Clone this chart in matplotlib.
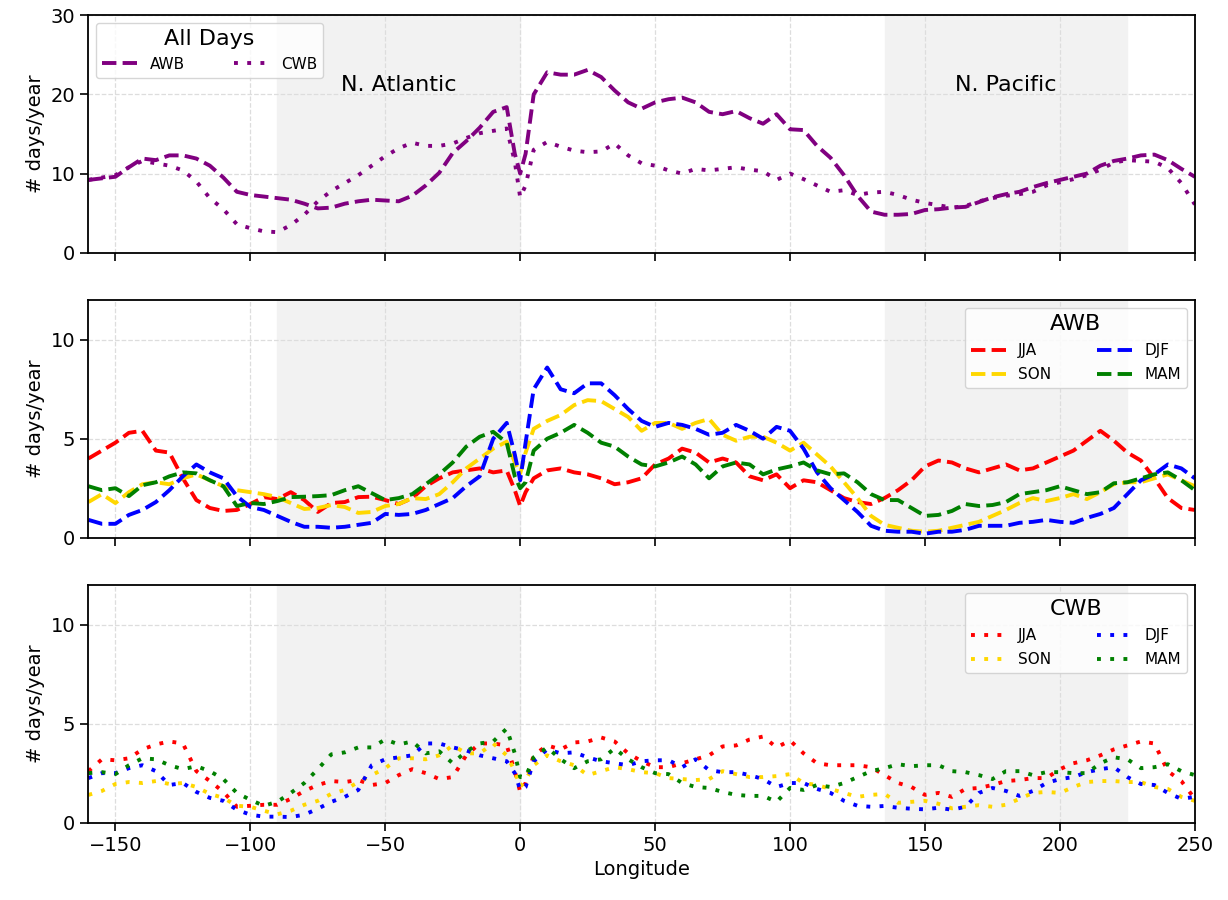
import numpy as np
import matplotlib
matplotlib.use('Agg')
import matplotlib.pyplot as plt

# longitude grid (deg), finer around the 0 deg dip
lon = list(range(-160, -4, 5)) + [-2, 0, 2] + list(range(5, 251, 5))

# all days
awb_all = [9.2, 9.4, 9.6, 10.8, 11.9, 11.7, 12.3, 12.3, 11.9, 11.0, 9.5, 7.7, 7.3, 7.1, 6.9, 6.7,
           6.2, 5.6, 5.7, 6.2, 6.5, 6.7, 6.6, 6.5, 7.2, 8.5, 10.1, 12.6, 14.1, 15.8, 17.8, 18.4,
           12.5, 10.0, 12.5,
           20.0, 22.8, 22.5, 22.5, 23.1, 22.2, 20.5, 19.0, 18.2, 19.0, 19.4, 19.6, 19.0, 17.8, 17.5,
           17.9, 17.0, 16.3, 17.5, 15.6, 15.5, 13.5, 12.0, 9.8, 7.2, 5.2, 4.8, 4.8, 4.9, 5.4, 5.5,
           5.7, 5.8, 6.4, 7.0, 7.4, 7.7, 8.3, 8.8, 9.2, 9.6, 10.0, 11.0, 11.6, 11.9, 12.3, 12.4,
           11.7, 10.6, 9.6]
cwb_all = [9.2, 9.5, 9.8, 10.8, 11.6, 11.3, 11.0, 10.4, 9.0, 6.9, 5.5, 3.6, 3.1, 2.7, 2.6, 3.5,
           4.8, 6.5, 7.8, 8.8, 9.8, 11.0, 12.2, 13.2, 13.9, 13.5, 13.5, 13.8, 14.5, 15.1, 15.4, 15.7,
           11.5, 7.0, 8.5,
           13.0, 14.0, 13.4, 12.9, 12.7, 12.8, 13.8, 12.3, 11.3, 11.0, 10.4, 10.0, 10.6, 10.4, 10.6,
           10.8, 10.5, 10.3, 9.2, 10.0, 9.3, 8.5, 7.7, 7.9, 7.3, 7.6, 7.7, 7.3, 6.7, 6.3, 6.0,
           5.7, 5.9, 6.5, 6.9, 7.2, 7.4, 7.7, 8.5, 8.9, 9.3, 9.8, 10.5, 11.4, 11.7, 11.6, 11.5,
           10.7, 8.8, 6.1]

# AWB by season
awb_jja = [4.0, 4.4, 4.8, 5.3, 5.4, 4.4, 4.3, 3.0, 1.9, 1.5, 1.35, 1.4, 1.7, 2.05, 1.95, 2.3,
           1.9, 1.3, 1.75, 1.8, 2.05, 2.07, 1.9, 1.7, 2.0, 2.6, 3.0, 3.3, 3.4, 3.5, 3.3, 3.4,
           2.4, 1.6, 2.3,
           3.0, 3.4, 3.5, 3.3, 3.2, 3.0, 2.7, 2.8, 3.0, 3.7, 4.0, 4.5, 4.3, 3.8, 4.0,
           3.8, 3.1, 2.9, 3.2, 2.5, 2.9, 2.8, 2.4, 2.0, 1.8, 1.7, 2.0, 2.4, 2.9, 3.6, 3.9,
           3.8, 3.5, 3.3, 3.5, 3.7, 3.4, 3.5, 3.8, 4.1, 4.4, 4.9, 5.4, 4.9, 4.3, 3.9, 3.0,
           2.0, 1.5, 1.4]
awb_djf = [0.9, 0.7, 0.7, 1.15, 1.4, 1.8, 2.4, 3.1, 3.7, 3.3, 3.0, 2.1, 1.55, 1.4, 1.1, 0.8,
           0.55, 0.55, 0.5, 0.55, 0.65, 0.75, 1.2, 1.15, 1.2, 1.4, 1.7, 2.0, 2.6, 3.1, 5.0, 5.8,
           4.2, 2.9, 4.8,
           7.5, 8.6, 7.5, 7.3, 7.8, 7.8, 7.2, 6.5, 5.9, 5.6, 5.8, 5.7, 5.5, 5.2, 5.3,
           5.7, 5.4, 5.0, 5.6, 5.4, 4.5, 3.3, 2.5, 1.9, 1.3, 0.6, 0.35, 0.3, 0.3, 0.2, 0.3,
           0.3, 0.4, 0.6, 0.6, 0.6, 0.75, 0.8, 0.9, 0.8, 0.75, 1.0, 1.2, 1.5, 2.2, 2.9, 3.2,
           3.7, 3.5, 3.0]
awb_son = [1.8, 2.2, 1.75, 2.3, 2.7, 2.8, 2.7, 3.0, 3.2, 2.9, 2.6, 2.4, 2.3, 2.2, 2.05, 1.75,
           1.45, 1.5, 1.65, 1.55, 1.25, 1.3, 1.6, 1.7, 2.0, 1.95, 2.2, 2.8, 3.5, 4.0, 4.5, 4.85,
           3.8, 3.25, 4.3,
           5.5, 5.9, 6.2, 6.7, 6.95, 6.9, 6.5, 6.1, 5.4, 5.8, 5.8, 5.5, 5.8, 6.0, 5.2,
           4.9, 5.1, 5.1, 4.8, 4.4, 4.8, 4.2, 3.6, 2.8, 2.0, 1.1, 0.65, 0.5, 0.35, 0.3, 0.35,
           0.5, 0.65, 0.8, 1.1, 1.4, 1.75, 2.0, 1.85, 2.0, 2.2, 1.95, 2.3, 2.7, 2.8, 2.8, 3.0,
           3.2, 2.9, 2.6]
awb_mam = [2.6, 2.4, 2.5, 2.1, 2.65, 2.8, 3.1, 3.3, 3.25, 2.9, 2.6, 1.6, 1.75, 1.7, 1.85, 2.05,
           2.07, 2.1, 2.15, 2.4, 2.6, 2.25, 1.9, 2.0, 2.2, 2.7, 3.2, 3.8, 4.6, 5.1, 5.35, 4.8,
           3.1, 2.5, 2.8,
           4.4, 5.0, 5.3, 5.7, 5.3, 4.8, 4.6, 4.1, 3.7, 3.6, 3.8, 4.1, 3.7, 3.0, 3.6,
           3.8, 3.7, 3.2, 3.45, 3.6, 3.8, 3.4, 3.2, 3.25, 2.8, 2.2, 1.9, 1.9, 1.5, 1.1, 1.15,
           1.35, 1.7, 1.6, 1.65, 1.8, 2.2, 2.3, 2.4, 2.6, 2.4, 2.2, 2.3, 2.75, 2.8, 3.0, 3.2,
           3.3, 2.9, 2.4]

# CWB by season
cwb_jja = [2.6, 3.2, 3.15, 3.25, 3.7, 3.95, 4.1, 4.0, 2.6, 2.1, 1.55, 0.8, 0.85, 0.9, 0.9, 1.2,
           1.6, 1.9, 2.1, 2.05, 2.15, 1.9, 2.0, 2.4, 2.7, 2.5, 2.2, 2.3, 3.4, 4.0, 4.0, 3.9,
           2.6, 1.55, 2.0,
           3.4, 3.9, 3.7, 4.05, 4.1, 4.3, 4.1, 3.5, 3.1, 2.8, 2.8, 3.0, 3.2, 3.4, 3.85,
           3.9, 4.2, 4.35, 3.8, 4.15, 3.5, 3.0, 2.9, 2.9, 2.9, 2.8, 2.4, 2.0, 1.8, 1.4, 1.5,
           1.3, 1.7, 1.75, 1.9, 2.1, 2.15, 2.25, 2.25, 2.7, 3.0, 3.15, 3.4, 3.7, 3.9, 4.1, 4.0,
           2.6, 2.1, 1.2]
cwb_djf = [2.25, 2.5, 2.5, 2.75, 2.9, 2.6, 1.9, 2.0, 1.55, 1.25, 1.1, 0.65, 0.4, 0.3, 0.3, 0.28,
           0.4, 0.7, 1.05, 1.3, 1.65, 2.9, 3.2, 3.3, 3.4, 4.0, 4.0, 3.8, 3.65, 3.4, 3.25, 3.1,
           2.5, 1.65, 1.8,
           3.1, 3.7, 3.5, 3.55, 3.3, 3.1, 3.0, 2.9, 3.1, 3.15, 3.15, 2.8, 3.2, 2.65, 2.55,
           2.55, 2.4, 2.2, 1.8, 2.0, 2.0, 1.7, 1.5, 1.1, 0.85, 0.8, 0.84, 0.75, 0.7, 0.67, 0.75,
           0.65, 0.8, 1.5, 1.75, 1.6, 1.35, 1.6, 2.0, 2.2, 2.3, 2.55, 2.7, 2.8, 2.3, 1.95, 1.9,
           1.5, 1.2, 1.3]
cwb_son = [1.4, 1.6, 1.95, 2.05, 2.0, 2.1, 1.95, 2.0, 1.8, 1.45, 1.25, 0.85, 0.8, 0.6, 0.42, 0.6,
           0.9, 1.1, 1.45, 1.65, 2.05, 2.4, 2.75, 3.25, 3.25, 3.2, 3.4, 3.9, 3.5, 3.5, 4.0, 3.4,
           2.6, 1.8, 2.15,
           2.9, 3.4, 3.1, 2.9, 2.4, 2.6, 2.8, 2.7, 2.55, 2.5, 2.25, 2.2, 2.15, 2.2, 2.6,
           2.45, 2.3, 2.3, 2.35, 2.45, 2.0, 1.9, 1.7, 1.5, 1.3, 1.4, 1.45, 1.0, 1.05, 1.1, 0.95,
           0.72, 0.8, 0.88, 0.8, 0.9, 1.2, 1.5, 1.55, 1.5, 1.8, 2.05, 2.1, 2.1, 2.05, 2.05, 1.8,
           1.7, 1.3, 1.1]
cwb_mam = [2.5, 2.55, 2.45, 2.9, 3.25, 3.2, 2.9, 2.7, 2.85, 2.6, 2.2, 1.5, 1.15, 0.85, 1.05, 1.5,
           2.0, 2.7, 3.45, 3.55, 3.8, 3.8, 4.2, 3.95, 4.1, 3.5, 3.6, 3.0, 3.6, 4.0, 4.1, 4.75,
           3.5, 2.3, 2.3,
           3.3, 3.8, 3.2, 2.75, 3.1, 3.2, 3.75, 3.2, 2.8, 2.5, 2.45, 2.0, 1.8, 1.75, 1.55,
           1.4, 1.35, 1.35, 1.05, 1.75, 1.65, 1.9, 1.8, 2.0, 2.3, 2.6, 2.75, 2.95, 2.85, 2.9, 2.9,
           2.6, 2.55, 2.4, 2.2, 2.6, 2.6, 2.4, 2.55, 2.55, 2.5, 2.5, 3.0, 3.3, 3.2, 2.75, 2.8,
           2.95, 2.6, 2.4]

# legend order fills column-wise: JJA, SON | DJF, MAM
seasons = ['JJA', 'SON', 'DJF', 'MAM']
colors = ['red', 'gold', 'blue', 'green']
awb_seas = [awb_jja, awb_son, awb_djf, awb_mam]
cwb_seas = [cwb_jja, cwb_son, cwb_djf, cwb_mam]
atlantic = (-90, 0)
pacific = (135, 225)

dashed = '--'
dotted = (0, (1, 2.4))
lw = 2.8

plt.rcParams['font.family'] = 'DejaVu Sans'
fig, ax = plt.subplots(nrows=3, figsize=(12.28, 9.0), dpi=100, sharex='all')
fig.subplots_adjust(left=0.072, right=0.973, top=0.983, bottom=0.086, hspace=0.2)

for a in ax:
    a.axvspan(*atlantic, color='#f2f2f2', zorder=0)
    a.axvspan(*pacific, color='#f2f2f2', zorder=0)
    a.grid(True, linestyle='--', color='#dddddd', linewidth=0.9)
    a.set_axisbelow(True)
    a.set_ylabel('# days/year', fontsize=14)
    a.tick_params(labelsize=14, length=6, width=1.2)
    for s in a.spines.values():
        s.set_linewidth(1.3)

# top panel
ax[0].plot(lon, awb_all, color='purple', ls=dashed, lw=lw, label='AWB')
ax[0].plot(lon, cwb_all, color='purple', ls=dotted, lw=lw, label='CWB')
ax[0].set_ylim(0, 30)
ax[0].set_yticks([0, 10, 20, 30])
ax[0].text(-45, 21.2, 'N. Atlantic', fontsize=16, ha='center', va='center')
ax[0].text(180, 21.2, 'N. Pacific', fontsize=16, ha='center', va='center')
ax[0].legend(title='All Days', ncols=2, loc='upper left', fontsize=11, title_fontsize=16,
             handlelength=2.3, columnspacing=3.2)

# seasonal panels
for i in range(4):
    ax[1].plot(lon, awb_seas[i], color=colors[i], ls=dashed, lw=lw, label=seasons[i])
    ax[2].plot(lon, cwb_seas[i], color=colors[i], ls=dotted, lw=lw, label=seasons[i])
for a, t in zip(ax[1:], ['AWB', 'CWB']):
    a.set_ylim(0, 12)
    a.set_yticks([0, 5, 10])
    a.legend(title=t, ncols=2, loc='upper right', fontsize=11, title_fontsize=16,
             handlelength=2.3, columnspacing=3.0, labelspacing=0.6)

ax[2].set_xlim(-160, 250)
ax[2].set_xticks(np.arange(-150, 251, 50))
ax[2].set_xlabel('Longitude', fontsize=14)

plt.savefig('out.png', dpi=100)
